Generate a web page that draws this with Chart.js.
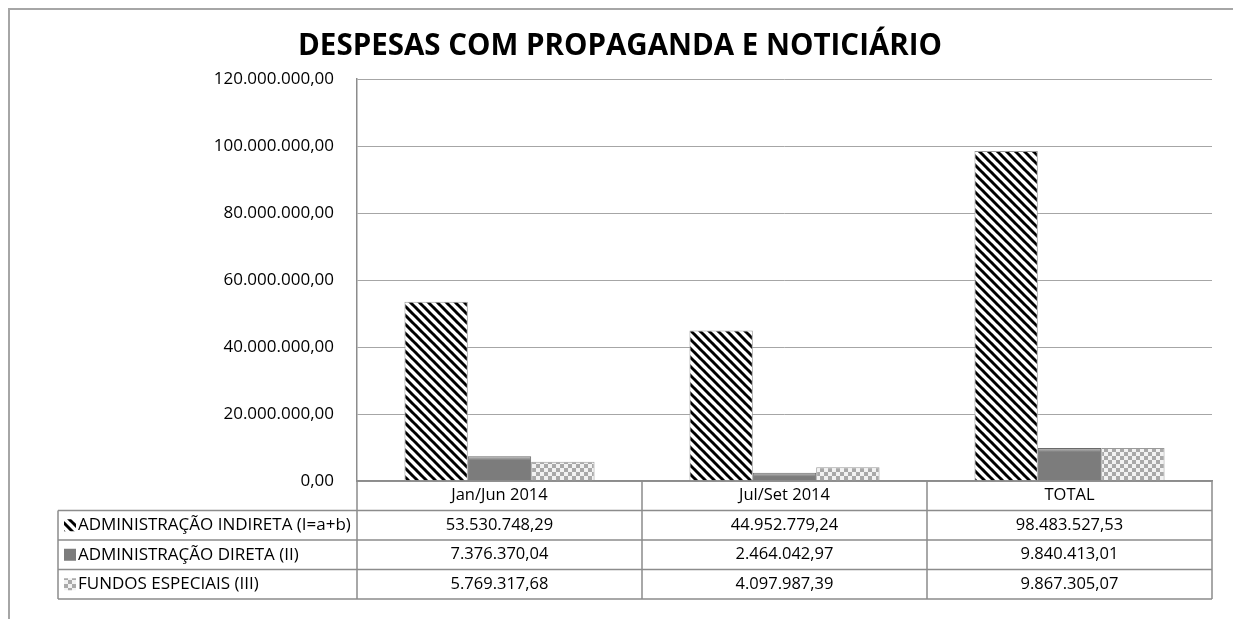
<!DOCTYPE html>
<html>
<head>
<meta charset="utf-8">
<script src="https://cdn.jsdelivr.net/npm/chart.js@4.4.0/dist/chart.umd.min.js"></script>
<style>
  html, body { margin: 0; padding: 0; background: #fff; }
  #wrap { width: 1233px; height: 619px; }
</style>
</head>
<body>
<div id="wrap"><canvas id="despesasChart" width="1233" height="619"></canvas></div>
<script>
const periodos = ['Jan/Jun 2014', 'Jul/Set 2014', 'TOTAL'];
const adminIndireta = [53530748.29, 44952779.24, 98483527.53];
const adminDireta = [7376370.04, 2464042.97, 9840413.01];
const fundosEspeciais = [5769317.68, 4097987.39, 9867305.07];
const serieNomes = ['ADMINISTRAÇÃO INDIRETA (I=a+b)', 'ADMINISTRAÇÃO DIRETA (II)', 'FUNDOS ESPECIAIS (III)'];
const yTicks = [0, 20000000, 40000000, 60000000, 80000000, 100000000, 120000000];

const FONT = '"Open Sans", "Noto Sans", sans-serif';

function fmt(v) {
    const parts = v.toFixed(2).split('.');
    return parts[0].replace(/\B(?=(\d{3})+(?!\d))/g, '.') + ',' + parts[1];
}

function stripePattern() {
    const c = document.createElement('canvas');
    c.width = 9; c.height = 9;
    const g = c.getContext('2d');
    g.fillStyle = '#fff';
    g.fillRect(0, 0, 9, 9);
    g.strokeStyle = '#000';
    g.lineWidth = 3;
    for (let o = -9; o <= 9; o += 9) {
        g.beginPath();
        g.moveTo(o - 1, -1);
        g.lineTo(o + 10, 10);
        g.stroke();
    }
    return g.createPattern(c, 'repeat');
}

function checkerPattern() {
    const c = document.createElement('canvas');
    c.width = 8; c.height = 8;
    const g = c.getContext('2d');
    g.fillStyle = '#f2f2f2';
    g.fillRect(0, 0, 8, 8);
    g.fillStyle = '#a9a9a9';
    g.fillRect(0, 0, 4, 4);
    g.fillRect(4, 4, 4, 4);
    return g.createPattern(c, 'repeat');
}

const fills = [stripePattern(), '#7c7c7c', checkerPattern()];

// brilho no topo das barras cinzentas (efeito bisel)
const bevelPlugin = {
    id: 'bevelPlugin',
    afterDatasetsDraw(chart) {
        const ctx = chart.ctx;
        const meta = chart.getDatasetMeta(1);
        ctx.save();
        meta.data.forEach(bar => {
            const left = bar.x - bar.width / 2;
            const h = bar.base - bar.y;
            const band = Math.min(4, h / 2);
            const grad = ctx.createLinearGradient(0, bar.y, 0, bar.y + band);
            grad.addColorStop(0, 'rgba(255,255,255,0.55)');
            grad.addColorStop(1, 'rgba(255,255,255,0)');
            ctx.fillStyle = grad;
            ctx.fillRect(left + 1, bar.y + 1, bar.width - 2, band);
        });
        ctx.restore();
    }
};

// moldura, título e tabela de dados
const tablePlugin = {
    id: 'tablePlugin',
    beforeDraw(chart) {
        const ctx = chart.ctx;
        ctx.save();
        ctx.strokeStyle = '#a6a6a6';
        ctx.lineWidth = 2;
        ctx.beginPath();
        ctx.moveTo(9, chart.height);
        ctx.lineTo(9, 9);
        ctx.lineTo(chart.width, 9);
        ctx.stroke();

        ctx.fillStyle = '#000';
        ctx.font = 'bold 29.5px ' + FONT;
        ctx.textAlign = 'center';
        ctx.textBaseline = 'middle';
        ctx.fillText('DESPESAS COM PROPAGANDA E NOTICIÁRIO', 620, 47);
        ctx.restore();
    },
    afterDraw(chart) {
        const ctx = chart.ctx;
        const area = chart.chartArea;
        const x = chart.scales.x;
        const half = (x.getPixelForValue(1) - x.getPixelForValue(0)) / 2;
        const rowH = 29.5;
        const top = area.bottom;
        const legendLeft = 58;
        const series = [adminIndireta, adminDireta, fundosEspeciais];

        ctx.save();
        ctx.strokeStyle = '#8c8c8c';
        ctx.lineWidth = 1.5;
        ctx.beginPath();
        // linhas horizontais
        ctx.moveTo(area.left, top);
        ctx.lineTo(area.right, top);
        for (let r = 1; r <= 4; r++) {
            ctx.moveTo(legendLeft, top + r * rowH);
            ctx.lineTo(area.right, top + r * rowH);
        }
        // linhas verticais
        ctx.moveTo(legendLeft, top + rowH);
        ctx.lineTo(legendLeft, top + 4 * rowH);
        for (let i = 0; i < periodos.length; i++) {
            const left = x.getPixelForValue(i) - half;
            ctx.moveTo(left, top);
            ctx.lineTo(left, top + 4 * rowH);
        }
        ctx.moveTo(area.right, top);
        ctx.lineTo(area.right, top + 4 * rowH);
        ctx.stroke();

        ctx.fillStyle = '#000';
        ctx.font = '16.5px ' + FONT;
        ctx.textBaseline = 'middle';
        ctx.textAlign = 'center';
        periodos.forEach((p, i) => {
            ctx.fillText(p, x.getPixelForValue(i), top + rowH / 2);
            series.forEach((s, k) => {
                ctx.fillText(fmt(s[i]), x.getPixelForValue(i), top + (k + 1.5) * rowH);
            });
        });

        ctx.font = '17px ' + FONT;
        ctx.textAlign = 'left';
        serieNomes.forEach((nome, k) => {
            const cy = top + (k + 1.5) * rowH;
            ctx.fillStyle = fills[k];
            ctx.fillRect(legendLeft + 6, cy - 6, 12, 12);
            ctx.fillStyle = '#000';
            ctx.fillText(nome, legendLeft + 20, cy);
        });
        ctx.restore();
    }
};

const ctx = document.getElementById('despesasChart');
new Chart(ctx, {
    type: 'bar',
    data: {
        labels: periodos,
        datasets: [
            { label: serieNomes[0], data: adminIndireta, backgroundColor: fills[0], borderColor: '#9a9a9a', borderWidth: 1 },
            { label: serieNomes[1], data: adminDireta, backgroundColor: fills[1], borderColor: '#6a6a6a', borderWidth: 1 },
            { label: serieNomes[2], data: fundosEspeciais, backgroundColor: fills[2], borderColor: '#9a9a9a', borderWidth: 1 }
        ]
    },
    options: {
        responsive: false,
        animation: false,
        devicePixelRatio: 1,
        layout: { padding: { left: 0, right: 21, top: 79, bottom: 138 } },
        datasets: { bar: { categoryPercentage: 0.667, barPercentage: 1 } },
        plugins: {
            legend: { display: false },
            title: { display: false },
            tooltip: { enabled: false }
        },
        scales: {
            x: {
                grid: { display: false },
                border: { display: true, color: '#8c8c8c', width: 1.5 },
                ticks: { display: false },
                afterFit(scale) { scale.height = 0; }
            },
            y: {
                min: 0,
                max: 120000000,
                afterBuildTicks(scale) { scale.ticks = yTicks.map(v => ({ value: v })); },
                grid: { color: '#a6a6a6', lineWidth: 1, drawTicks: false },
                border: { display: true, color: '#8c8c8c', width: 1.5 },
                ticks: {
                    color: '#000',
                    font: { family: FONT, size: 17 },
                    padding: 23,
                    callback: v => fmt(v)
                },
                afterFit(scale) { scale.width = 357; }
            }
        }
    },
    plugins: [tablePlugin, bevelPlugin]
});
</script>
</body>
</html>
